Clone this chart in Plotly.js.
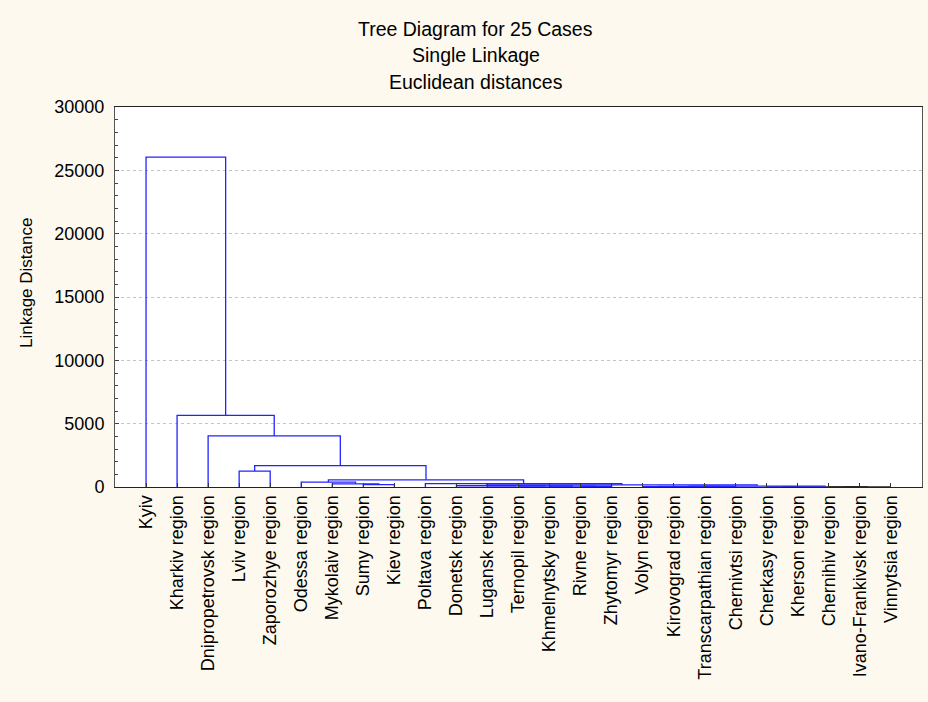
<!DOCTYPE html>
<html>
<head>
<meta charset="utf-8">
<script src="https://cdn.plot.ly/plotly-3.0.1.min.js"></script>
<style>
  html, body { margin: 0; padding: 0; background: #fdf9ee; }
  #chart { width: 928px; height: 702px; }
</style>
</head>
<body>
<div id="chart"></div>
<script>
// Leaves in display order
const leafLabels = [
  "Kyiv", "Kharkiv region", "Dnipropetrovsk region", "Lviv region", "Zaporozhye region",
  "Odessa region", "Mykolaiv region", "Sumy region", "Kiev region", "Poltava region",
  "Donetsk region", "Lugansk region", "Ternopil region", "Khmelnytsky region", "Rivne region",
  "Zhytomyr region", "Volyn region", "Kirovograd region", "Transcarpathian region", "Chernivtsi region",
  "Cherkasy region", "Kherson region", "Chernihiv region", "Ivano-Frankivsk region", "Vinnytsia region"
];

// Linkage table: node ids 0..24 are leaves, merge k creates node 25+k
const mergeLeft   = [20, 22, 26, 25, 16, 18, 29, 31, 14, 13, 12, 11, 10, 37,  9,  7,  6,  5, 42,    3,   44,   2,    1,     0];
const mergeRight  = [21, 23, 24, 27, 17, 19, 30, 28, 15, 33, 34, 35, 36, 32, 38,  8, 40, 41, 39,    4,   43,  45,   46,    47];
const mergeHeight = [ 0,  0,  0,  0, 30, 40, 50, 70, 60, 70, 80, 90,100,160,270,190,250,390,570, 1260, 1690, 4030, 5660, 26050];

const yTickVals = [0, 5000, 10000, 15000, 20000, 25000, 30000];
const yTickText = ["0", "5000", "10000", "15000", "20000", "25000", "30000"];

// Build dendrogram line paths through data coordinates
const nLeaves = leafLabels.length;
const nodeX = [], nodeY = [];
for (let i = 0; i < nLeaves; i++) { nodeX.push(i); nodeY.push(0); }
const lx = [], ly = [];      // links above the baseline (blue)
const zx = [], zy = [];      // links at zero distance (lie on the axis line)
for (let k = 0; k < mergeLeft.length; k++) {
  const a = mergeLeft[k], b = mergeRight[k], h = mergeHeight[k];
  const tx = h > 0 ? lx : zx, ty = h > 0 ? ly : zy;
  tx.push(nodeX[a], nodeX[a], nodeX[b], nodeX[b], null);
  ty.push(nodeY[a], h, h, nodeY[b], null);
  nodeX.push((nodeX[a] + nodeX[b]) / 2);
  nodeY.push(h);
}

const FONT = "Liberation Sans, Arial, sans-serif";

const traces = [
  { x: zx, y: zy, type: "scatter", mode: "lines",
    line: { color: "#222", width: 1.3 }, hoverinfo: "skip", showlegend: false },
  { x: lx, y: ly, type: "scatter", mode: "lines",
    line: { color: "rgb(35,35,255)", width: 1.3 }, hoverinfo: "skip", showlegend: false }
];

const layout = {
  width: 928, height: 702,
  paper_bgcolor: "#fdf9ee",
  plot_bgcolor: "#ffffff",
  margin: { l: 115, r: 6, t: 107, b: 215 },
  font: { family: FONT, color: "#000" },
  showlegend: false,
  xaxis: {
    range: [-1, 25],
    tickmode: "array",
    tickvals: leafLabels.map((_, i) => i),
    ticktext: leafLabels,
    tickangle: -90,
    tickfont: { family: FONT, size: 18, color: "#000" },
    ticks: "inside", ticklen: 4, tickcolor: "#333", tickwidth: 1,
    showgrid: false, zeroline: false,
    showline: true, linecolor: "#222", linewidth: 1, mirror: true,
    layer: "above traces",
    fixedrange: true
  },
  yaxis: {
    range: [0, 30000],
    tickmode: "array",
    tickvals: yTickVals,
    ticktext: yTickText,
    tickfont: { family: FONT, size: 18, color: "#000" },
    ticks: "inside", ticklen: 4, tickcolor: "#444", tickwidth: 1,
    ticklabelstandoff: 6,
    minor: { dtick: 1000, ticks: "inside", ticklen: 3, tickcolor: "#444", showgrid: false },
    showgrid: true, gridcolor: "#c4c4c4", griddash: "dot", gridwidth: 1,
    zeroline: false,
    showline: true, linecolor: "#555", linewidth: 1, mirror: true,
    layer: "above traces",
    fixedrange: true
  },
  annotations: [
    { text: "Tree Diagram for 25 Cases", xref: "paper", yref: "paper", x: 0.4473, y: 1.205,
      xanchor: "center", yanchor: "middle", showarrow: false, font: { family: FONT, size: 19.5, color: "#000" } },
    { text: "Single Linkage", xref: "paper", yref: "paper", x: 0.4473, y: 1.137,
      xanchor: "center", yanchor: "middle", showarrow: false, font: { family: FONT, size: 19.5, color: "#000" } },
    { text: "Euclidean distances", xref: "paper", yref: "paper", x: 0.4473, y: 1.066,
      xanchor: "center", yanchor: "middle", showarrow: false, font: { family: FONT, size: 19.5, color: "#000" } },
    { text: "Linkage Distance", xref: "paper", yref: "paper", x: -0.109, y: 0.537,
      xanchor: "center", yanchor: "middle", textangle: -90, showarrow: false,
      font: { family: FONT, size: 17, color: "#000" } }
  ]
};

Plotly.newPlot("chart", traces, layout, { displayModeBar: false, staticPlot: true });
</script>
</body>
</html>
